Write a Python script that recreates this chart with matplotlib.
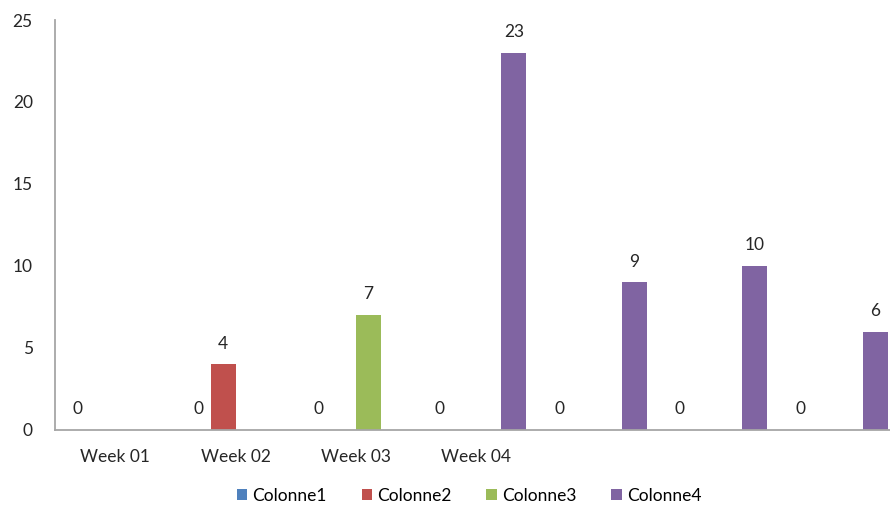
import numpy as np
import matplotlib
matplotlib.use("Agg")
import matplotlib.pyplot as plt

plt.rcParams['font.family'] = ['Lato', 'DejaVu Sans']

categories = ["Week 01", "Week 02", "Week 03", "Week 04", "", "", ""]
series_names = ["Colonne1", "Colonne2", "Colonne3", "Colonne4"]
colonne1 = [0, 0, 0, 0, 0, 0, 0]
colonne2 = [np.nan, 4, np.nan, np.nan, np.nan, np.nan, np.nan]
colonne3 = [np.nan, np.nan, 7, np.nan, np.nan, np.nan, np.nan]
colonne4 = [np.nan, np.nan, np.nan, 23, 9, 10, 6]
colors = ["#4F81BD", "#C0504D", "#9BBB59", "#8064A2"]

fig = plt.figure(figsize=(8.9, 5.13), dpi=100)
ax = fig.add_axes([55 / 890, (513 - 430) / 513, 843 / 890, 410 / 513])

x = np.arange(len(categories))
width = 0.207
all_series = [colonne1, colonne2, colonne3, colonne4]
for i, (vals, name, col) in enumerate(zip(all_series, series_names, colors)):
    pos = x + (i - 1.5) * width
    v = np.array(vals, dtype=float)
    ax.bar(pos, np.nan_to_num(v), width, color=col, label=name)
    for p, val in zip(pos, v):
        if not np.isnan(val):
            ax.annotate(f"{int(val)}", (p, val), xytext=(0, 15),
                        textcoords="offset points", ha="center", va="center",
                        fontsize=12.5, color="#262626")

ax.set_xlim(-0.5, len(categories) - 0.5)
ax.set_ylim(0, 25)
ax.set_yticks([0, 5, 10, 15, 20, 25])
ax.set_xticks(x)
ax.set_xticklabels(categories)
ax.tick_params(axis="both", length=0, labelsize=12.5, colors="#262626")
ax.tick_params(axis="y", pad=16)
ax.tick_params(axis="x", pad=14)
for s in ["top", "right"]:
    ax.spines[s].set_visible(False)
for s in ["left", "bottom"]:
    ax.spines[s].set_color("#A6A6A6")
    ax.spines[s].set_linewidth(1.3)

fig.legend(loc="center", bbox_to_anchor=(469 / 890, 1 - 496 / 513), ncol=4,
           frameon=False, fontsize=12.5, handlelength=0.6, handleheight=0.6,
           handletextpad=0.3, columnspacing=2.0)

fig.savefig("out.png", dpi=100)
